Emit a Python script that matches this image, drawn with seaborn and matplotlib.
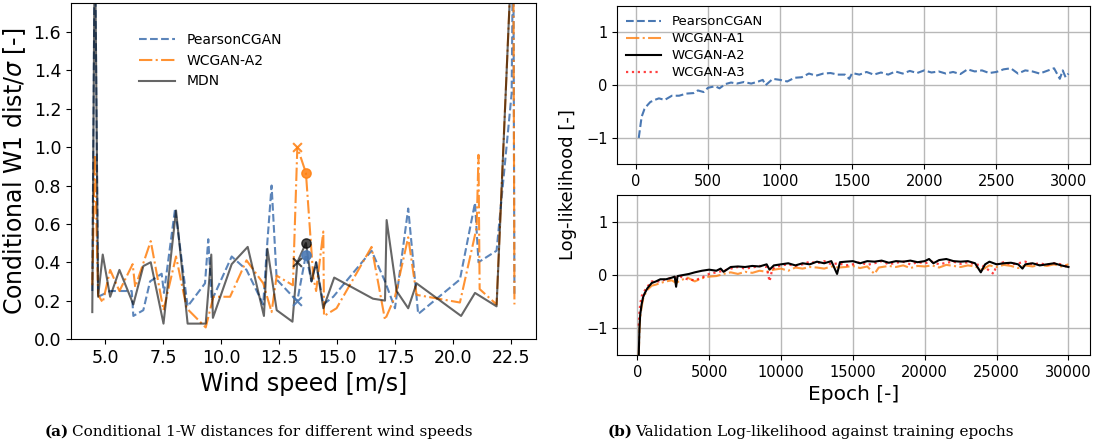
import numpy as np
import pandas as pd
import seaborn as sns
import matplotlib.pyplot as plt

# --- (a) conditional W1 distance vs wind speed ---
pearson_ws = [4.45, 4.56, 4.7, 5.22, 6.15, 6.22, 6.65, 6.94, 7.44, 7.54, 8.02, 8.56, 9.31, 9.45, 9.6,
              10.46, 11.1, 11.82, 11.97, 12.18, 12.4, 13.1, 13.29, 13.66, 13.9, 14.1, 14.41, 14.84,
              16.49, 17.07, 17.5, 18.07, 18.5, 20.3, 20.95, 21.1, 21.88, 22.53, 22.6, 22.65]
pearson_w1 = [0.25, 2.2, 0.22, 0.25, 0.25, 0.12, 0.15, 0.30, 0.34, 0.24, 0.68, 0.17, 0.29, 0.52, 0.20,
              0.43, 0.36, 0.18, 0.46, 0.80, 0.31, 0.22, 0.20, 0.44, 0.30, 0.40, 0.18, 0.22,
              0.46, 0.30, 0.16, 0.68, 0.13, 0.31, 0.71, 0.40, 0.46, 1.28, 2.2, 0.22]

wcgan_ws = [4.45, 4.56, 4.7, 4.9, 5.22, 5.62, 6.19, 6.3, 6.97, 7.52, 8.06, 8.52, 9.34, 9.67,
            10.39, 11.1, 11.82, 12.18, 12.4, 13.1, 13.29, 13.66, 13.98, 14.1, 14.41, 14.44, 14.98,
            16.49, 17.07, 17.5, 18.07, 18.43, 20.3, 21.02, 21.1, 21.15, 21.88, 22.6, 22.65]
wcgan_w1 = [0.28, 0.96, 0.23, 0.19, 0.36, 0.25, 0.39, 0.27, 0.51, 0.15, 0.43, 0.16, 0.06, 0.22,
            0.22, 0.41, 0.29, 0.14, 0.33, 0.28, 1.0, 0.866, 0.32, 0.25, 0.56, 0.12, 0.16,
            0.48, 0.10, 0.22, 0.53, 0.23, 0.19, 0.58, 0.96, 0.26, 0.18, 2.2, 0.18]

mdn_ws = [4.45, 4.56, 4.7, 4.9, 5.22, 5.62, 6.22, 6.65, 6.97, 7.52, 8.06, 8.56, 9.34, 9.58, 9.65,
          10.46, 11.15, 11.85, 12.0, 12.4, 13.08, 13.29, 13.66, 13.9, 14.1, 14.41, 14.88,
          16.55, 17.07, 17.14, 17.57, 18.07, 18.43, 20.35, 20.95, 21.88, 22.6]
mdn_w1 = [0.14, 2.2, 0.22, 0.44, 0.22, 0.36, 0.18, 0.38, 0.40, 0.08, 0.67, 0.08, 0.08, 0.44, 0.11,
          0.39, 0.48, 0.12, 0.47, 0.15, 0.09, 0.40, 0.50, 0.30, 0.40, 0.16, 0.32,
          0.21, 0.20, 0.62, 0.25, 0.16, 0.29, 0.12, 0.24, 0.17, 2.2]

# highlighted wind speeds (x marker, o marker)
mark_ws = [13.29, 13.66]
pearson_mark = [0.20, 0.44]
wcgan_mark = [1.0, 0.866]
mdn_mark = [0.40, 0.50]

# --- (b) validation log-likelihood ---
pearson_ep = [20, 40, 60, 80, 100, 130, 160, 200, 250, 300, 350, 400, 430, 470, 500, 550, 580, 620,
              660, 700, 750, 800, 850, 880, 900, 950, 1000, 1050, 1100, 1150, 1200, 1250, 1300,
              1350, 1400, 1450, 1480, 1500, 1550, 1600, 1650, 1700, 1750, 1800, 1850, 1900, 1950,
              2000, 2050, 2100, 2150, 2200, 2250, 2300, 2350, 2400, 2450, 2500, 2550, 2600, 2650,
              2700, 2750, 2800, 2850, 2900, 2940, 2960, 2980, 3000]
pearson_ll = [-1.0, -0.6, -0.45, -0.38, -0.32, -0.28, -0.25, -0.28, -0.2, -0.2, -0.16, -0.15, -0.1,
              -0.13, -0.05, -0.02, -0.06, 0.02, 0.05, 0.03, 0.06, 0.03, 0.07, 0.1, 0.0, 0.12, 0.1,
              0.07, 0.14, 0.15, 0.22, 0.18, 0.22, 0.23, 0.2, 0.2, 0.12, 0.23, 0.2, 0.25, 0.2, 0.24,
              0.2, 0.26, 0.22, 0.27, 0.23, 0.28, 0.24, 0.26, 0.22, 0.25, 0.21, 0.3, 0.26, 0.28, 0.23,
              0.25, 0.3, 0.32, 0.22, 0.28, 0.26, 0.22, 0.27, 0.32, 0.12, 0.28, 0.15, 0.22]

a1_ep = [100, 150, 200, 300, 400, 500, 700, 1000, 1300, 1600, 2000, 2400, 2700, 3000, 3500, 4000,
         4500, 5000, 5500, 6000, 6500, 7000, 7500, 8000, 8500, 9000, 9500, 10000, 10500, 11000,
         11500, 12000, 12500, 13000, 13500, 14000, 14500, 15000, 15500, 16000, 16500, 16800, 17500,
         18000, 18500, 19000, 19500, 20000, 20500, 21000, 21500, 22000, 22500, 23000, 23500, 24000,
         24500, 25000, 25500, 26000, 26500, 27000, 27500, 28000, 28500, 29000, 29500, 30000]
a1_ll = [-1.5, -1.05, -0.8, -0.6, -0.45, -0.38, -0.28, -0.2, -0.18, -0.15, -0.12, -0.1, -0.15, -0.1,
         -0.05, -0.12, -0.06, -0.03, -0.02, 0.02, 0.05, 0.02, 0.06, 0.04, 0.08, 0.06, 0.1, 0.12,
         0.08, 0.14, 0.12, 0.15, 0.14, 0.12, 0.16, 0.14, 0.15, 0.17, 0.13, 0.16, 0.02, 0.14, 0.17,
         0.15, 0.18, 0.13, 0.17, 0.16, 0.18, 0.14, 0.19, 0.17, 0.15, 0.18, 0.16, 0.1, 0.18, 0.15,
         0.19, 0.17, 0.13, 0.18, 0.16, 0.19, 0.17, 0.2, 0.16, 0.2]

a2_ep = [100, 150, 200, 300, 400, 500, 700, 1000, 1300, 1600, 2000, 2400, 2600, 2700, 2800, 3200,
         3600, 4000, 4500, 5000, 5500, 5800, 6000, 6500, 7000, 7500, 8000, 8500, 9000, 9200, 9500,
         10000, 10500, 11000, 11500, 12000, 12500, 13000, 13500, 13900, 14100, 14500, 15000, 15500,
         16000, 16500, 17000, 17500, 18000, 18500, 19000, 19500, 20000, 20300, 20600, 21000, 21500,
         22000, 22500, 23000, 23500, 23900, 24200, 24500, 25000, 25500, 26000, 26500, 26800, 27000,
         27500, 28000, 28500, 29000, 29500, 30000]
a2_ll = [-1.5, -1.0, -0.75, -0.55, -0.42, -0.35, -0.25, -0.15, -0.12, -0.08, -0.08, -0.05, -0.03,
         -0.22, -0.02, 0.0, 0.02, 0.05, 0.08, 0.1, 0.08, 0.12, 0.06, 0.15, 0.16, 0.15, 0.17, 0.16,
         0.2, 0.1, 0.18, 0.2, 0.22, 0.18, 0.22, 0.2, 0.25, 0.22, 0.26, 0.02, 0.24, 0.25, 0.26, 0.22,
         0.26, 0.25, 0.27, 0.23, 0.26, 0.25, 0.27, 0.24, 0.26, 0.3, 0.22, 0.28, 0.3, 0.26, 0.25,
         0.26, 0.22, 0.05, 0.2, 0.25, 0.2, 0.22, 0.23, 0.2, 0.12, 0.2, 0.22, 0.18, 0.2, 0.22, 0.18,
         0.15]

a3_ep = [100, 150, 200, 300, 500, 700, 1000, 1500, 2000, 2500, 3000, 3500, 4000, 4500, 5000, 5500,
         6000, 6500, 7000, 7500, 8000, 8500, 9000, 9200, 9400, 10000, 10500, 11000, 11500, 12000,
         12500, 13000, 13500, 14000, 14500, 15000, 15500, 16000, 16500, 17000, 17500, 18000, 18500,
         19000, 19500, 20000, 20500, 21000, 21500, 22000, 22500, 23000, 23500, 24000, 24800, 25000,
         25500, 26000, 26500, 27000, 27500, 28000, 28500, 29000, 29500, 30000]
a3_ll = [-0.95, -0.7, -0.55, -0.4, -0.3, -0.22, -0.12, -0.12, -0.08, -0.05, -0.03, -0.08, -0.1,
         -0.05, 0.02, 0.05, 0.08, 0.12, 0.15, 0.12, 0.14, 0.17, 0.15, -0.12, 0.12, 0.18, 0.2, 0.17,
         0.2, 0.25, 0.22, 0.26, 0.2, 0.22, 0.18, 0.2, 0.24, 0.19, 0.22, 0.26, 0.2, 0.23, 0.25, 0.2,
         0.24, 0.22, 0.25, 0.2, 0.23, 0.25, 0.21, 0.24, 0.2, 0.18, 0.02, 0.2, 0.24, 0.2, 0.22, 0.25,
         0.2, 0.22, 0.19, 0.22, 0.2, 0.14]

blue = '#4a78b3'
orange = '#ff7f0e'

fig = plt.figure(figsize=(10.95, 4.46), dpi=100)

# left panel
ax = fig.add_axes([0.0648, 0.240, 0.4247, 0.7526])
sns.lineplot(x=pearson_ws, y=pearson_w1, ax=ax, color=blue, linestyle='--', lw=1.5, alpha=0.9,
             sort=False, label='PearsonCGAN')
sns.lineplot(x=wcgan_ws, y=wcgan_w1, ax=ax, color=orange, linestyle='-.', lw=1.5, alpha=0.85,
             sort=False, label='WCGAN-A2')
sns.lineplot(x=mdn_ws, y=mdn_w1, ax=ax, color='black', linestyle='-', lw=1.5, alpha=0.6,
             sort=False, label='MDN')
for vals, c, a in [(pearson_mark, blue, 0.9), (wcgan_mark, orange, 0.85), (mdn_mark, 'black', 0.7)]:
    ax.scatter(mark_ws[:1], vals[:1], marker='x', color=c, s=40, alpha=a, zorder=3)
    ax.scatter(mark_ws[1:], vals[1:], marker='o', color=c, s=45, alpha=a, zorder=3)
ax.set_xlim(3.53, 23.58)
ax.set_ylim(0, 1.75)
ax.set_xticks([5, 7.5, 10, 12.5, 15, 17.5, 20, 22.5])
ax.set_yticks([0, 0.2, 0.4, 0.6, 0.8, 1.0, 1.2, 1.4, 1.6])
ax.tick_params(labelsize=12.5)
ax.set_xlabel('Wind speed [m/s]', fontsize=17)
ax.set_ylabel(r'Conditional W1 dist/$\sigma$ [-]', fontsize=17)
ax.legend(loc='upper left', bbox_to_anchor=(0.12, 0.95), frameon=False, fontsize=10,
          handlelength=2.6)

# right panels
ax1 = fig.add_axes([0.5637, 0.6316, 0.4317, 0.3549])
ax2 = fig.add_axes([0.5637, 0.2040, 0.4317, 0.3588])

sns.lineplot(x=pearson_ep, y=pearson_ll, ax=ax1, color=blue, linestyle='--', lw=1.5, sort=False)
sns.lineplot(x=a1_ep, y=a1_ll, ax=ax2, color=orange, linestyle='-.', lw=1.5, alpha=0.8, sort=False)
sns.lineplot(x=a3_ep, y=a3_ll, ax=ax2, color='red', linestyle=':', lw=1.6, alpha=0.75, sort=False)
sns.lineplot(x=a2_ep, y=a2_ll, ax=ax2, color='black', linestyle='-', lw=1.5, sort=False)
h_p = ax1.get_lines()[0]
h_a1, h_a3, h_a2 = ax2.get_lines()[:3]
ax1.legend([h_p, h_a1, h_a2, h_a3], ['PearsonCGAN', 'WCGAN-A1', 'WCGAN-A2', 'WCGAN-A3'],
           loc='upper left', frameon=False, fontsize=9.5, handlelength=2.6, borderaxespad=0.3,
           labelspacing=0.3)

ax1.set_xlim(-129, 3149)
ax2.set_xlim(-1395, 31495)
for a in (ax1, ax2):
    a.set_ylim(-1.5, 1.5)
    a.set_yticks([-1, 0, 1])
    a.grid(True, color='#b8b8b8', lw=1.0)
    a.tick_params(labelsize=10.5)
    a.set_ylabel('')
ax1.set_xticks([0, 500, 1000, 1500, 2000, 2500, 3000])
ax2.set_xticks([0, 5000, 10000, 15000, 20000, 25000, 30000])
ax2.set_xlabel('Epoch [-]', fontsize=14.5)
fig.text(568 / 1095, 1 - 185 / 446, 'Log-likelihood [-]', rotation=90, fontsize=13,
         ha='center', va='center')

# captions
cap_y = 1 - 432 / 446
serif = 'DejaVu Serif'
fig.text(45 / 1095, cap_y, '(a)', fontsize=11, family=serif, weight='bold', va='center')
fig.text(72 / 1095, cap_y, 'Conditional 1-W distances for different wind speeds', fontsize=11,
         family=serif, va='center')
fig.text(608 / 1095, cap_y, '(b)', fontsize=11, family=serif, weight='bold', va='center')
fig.text(635 / 1095, cap_y, 'Validation Log-likelihood against training epochs', fontsize=11,
         family=serif, va='center')

fig.savefig('out.png', dpi=100)
